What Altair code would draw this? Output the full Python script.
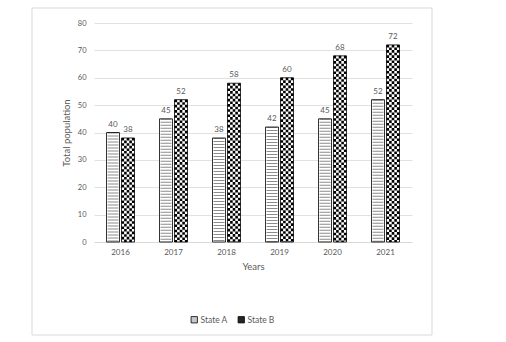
import altair as alt
import pandas as pd

years = ["2016", "2017", "2018", "2019", "2020", "2021"]
state_a = [40, 45, 38, 42, 45, 52]
state_b = [38, 52, 58, 60, 68, 72]
series_names = ["State A", "State B"]
y_ticks = [0, 10, 20, 30, 40, 50, 60, 70, 80]

df = pd.DataFrame({
    "Year": years * 2,
    "Series": [series_names[0]] * len(years) + [series_names[1]] * len(years),
    "Value": state_a + state_b,
})

W, H = 318, 219
BAR = 13
OFF = 7.5
CELL = 2.6
FONT = "Lato"
GREY = "#595959"

x_enc = alt.X(
    "Year:N", title="Years",
    scale=alt.Scale(paddingInner=0, paddingOuter=0),
    axis=alt.Axis(labelAngle=0, ticks=False, domainColor="#d9d9d9", labelColor=GREY,
                  labelFontSize=8, labelFont=FONT, labelPadding=6,
                  titleFont=FONT, titleFontSize=9.5, titleColor=GREY,
                  titleFontWeight="normal", titlePadding=5, grid=False),
)
y_enc = alt.Y(
    "Value:Q", title="Total population",
    scale=alt.Scale(domain=[0, 80], nice=False),
    axis=alt.Axis(values=y_ticks, ticks=False, domain=False, gridColor="#d9d9d9",
                  gridWidth=0.8, labelColor=GREY, labelFontSize=7.5, labelFont=FONT,
                  labelPadding=8, titleFont=FONT, titleFontSize=9.5, titleColor=GREY,
                  titleFontWeight="normal", titlePadding=6),
)

base = alt.Chart(df).encode(x=x_enc, y=y_enc)
is_a = alt.datum.Series == series_names[0]
is_b = alt.datum.Series == series_names[1]

fill_a = base.transform_filter(is_a).mark_bar(size=BAR, xOffset=-OFF, fill="white")
fill_b = base.transform_filter(is_b).mark_bar(size=BAR, xOffset=OFF, fill="white")

pat_a = base.transform_filter(is_a).mark_rule(
    xOffset=-OFF, strokeWidth=11, strokeDash=[1, 2], color="#8c8c8c"
).encode(y2=alt.datum(0))

pat_b_layers = []
for i in range(5):
    pat_b_layers.append(
        base.transform_filter(is_b).mark_rule(
            xOffset=OFF + (i - 2) * CELL, strokeWidth=CELL,
            strokeDash=[CELL, CELL], strokeDashOffset=(0 if i % 2 == 0 else CELL),
            color="black",
        ).encode(y2=alt.datum(0))
    )

edge_a = base.transform_filter(is_a).mark_bar(
    size=BAR, xOffset=-OFF, fillOpacity=0, stroke="black", strokeWidth=0.8)
edge_b = base.transform_filter(is_b).mark_bar(
    size=BAR, xOffset=OFF, fillOpacity=0, stroke="black", strokeWidth=0.8)

text_a = base.transform_filter(is_a).mark_text(
    baseline="bottom", dy=-4, xOffset=-OFF, fontSize=8, font=FONT, color=GREY
).encode(text="Value:Q")
text_b = base.transform_filter(is_b).mark_text(
    baseline="bottom", dy=-4, xOffset=OFF, fontSize=8, font=FONT, color=GREY
).encode(text="Value:Q")

legend_layer = base.mark_square(opacity=0).encode(
    color=alt.Color(
        "Series:N",
        scale=alt.Scale(domain=series_names, range=["#c8c8c8", "#262626"]),
        legend=alt.Legend(
            title=None, orient="none", legendX=96, legendY=292,
            direction="horizontal", symbolType="square", symbolSize=40,
            symbolOpacity=1, symbolStrokeColor="black", symbolStrokeWidth=0.8,
            labelFontSize=8.5, labelColor=GREY, labelFont=FONT,
            columnPadding=8, labelOffset=2,
        ),
    )
)

frame = alt.Chart(pd.DataFrame({"k": [0]})).mark_rect(
    fillOpacity=0, stroke="#d9d9d9", strokeWidth=1
).encode(x=alt.value(-62), x2=alt.value(338), y=alt.value(-15), y2=alt.value(312))

chart = alt.layer(
    frame, fill_a, fill_b, pat_a, *pat_b_layers, edge_a, edge_b, text_a, text_b, legend_layer
).properties(
    width=W, height=H,
    autosize=alt.AutoSizeParams(type="none"),
    padding={"left": 94, "top": 23, "right": 94, "bottom": 100},
).configure(background="white").configure_view(stroke=None)

chart.save("out.html", embed_options={"renderer": "svg", "actions": False})
